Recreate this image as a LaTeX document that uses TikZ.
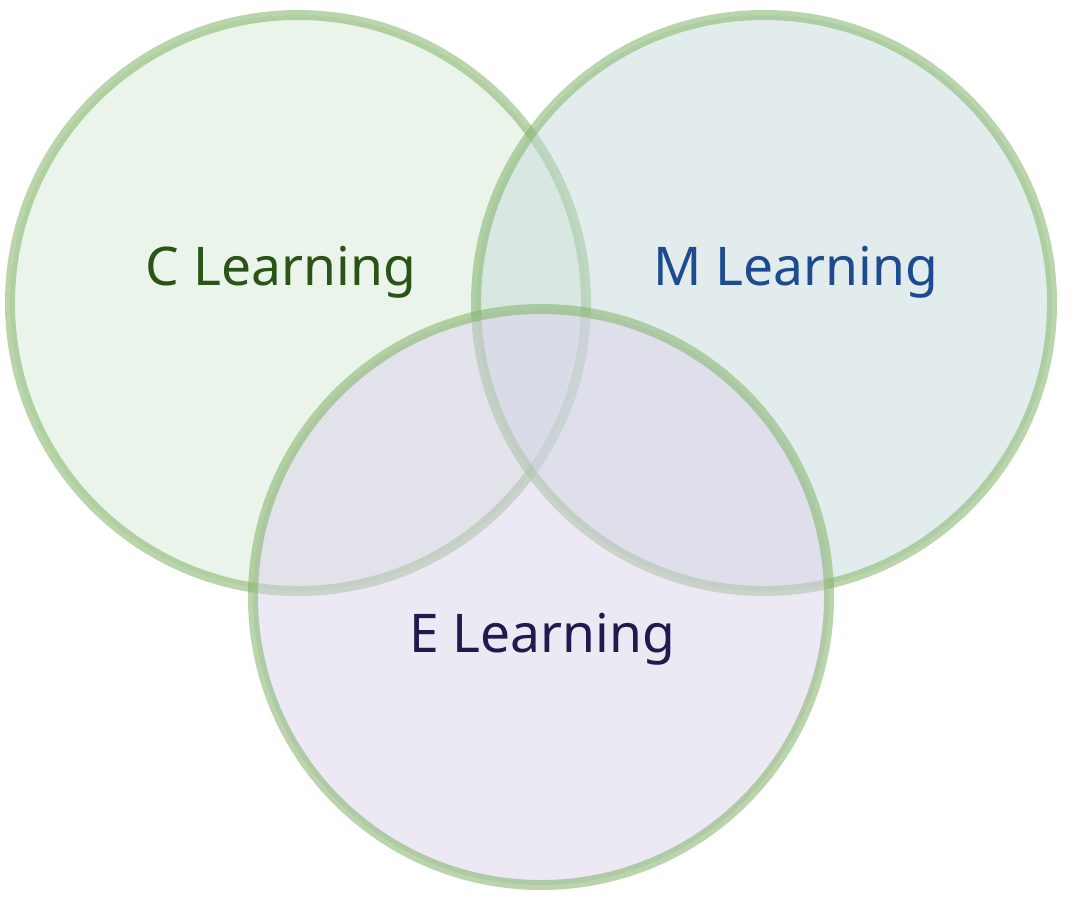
\documentclass[tikz,border=0pt]{standalone}
\usepackage{fontspec}
\setmainfont{Noto Sans}

\definecolor{ringgreen}{HTML}{82B366}
\definecolor{cfill}{HTML}{D8EAD6}
\definecolor{mfill}{HTML}{C6DADB}
\definecolor{efill}{HTML}{DAD1EA}
\definecolor{ctext}{HTML}{2B5318}
\definecolor{mtext}{HTML}{1E4B8F}
\definecolor{etext}{HTML}{22194D}

\begin{document}
\begin{tikzpicture}[x=0.75pt,y=0.75pt,yscale=-1,xscale=1,
  ring/.style={draw=ringgreen,draw opacity=0.55,line width=7.5pt,fill opacity=0.5},
  setlabel/.style={inner sep=0.75pt,font=\fontsize{40}{48}\selectfont}]
\useasboundingbox (0,0) rectangle (1080,900);

%Shape: Circle [id:c]
\draw [ring,fill=cfill] (298,303) circle [radius=288];
%Shape: Circle [id:m]
\draw [ring,fill=mfill] (764,303) circle [radius=288];
%Shape: Circle [id:e]
\draw [ring,fill=efill] (541,597) circle [radius=288];

% Text Node
\draw (281,272) node (clearn) [setlabel,text=ctext] {C Learning};
% Text Node
\draw (796,272) node (mlearn) [setlabel,text=mtext] {M Learning};
% Text Node
\draw (542,639) node (elearn) [setlabel,text=etext] {E Learning};

\end{tikzpicture}
\end{document}
